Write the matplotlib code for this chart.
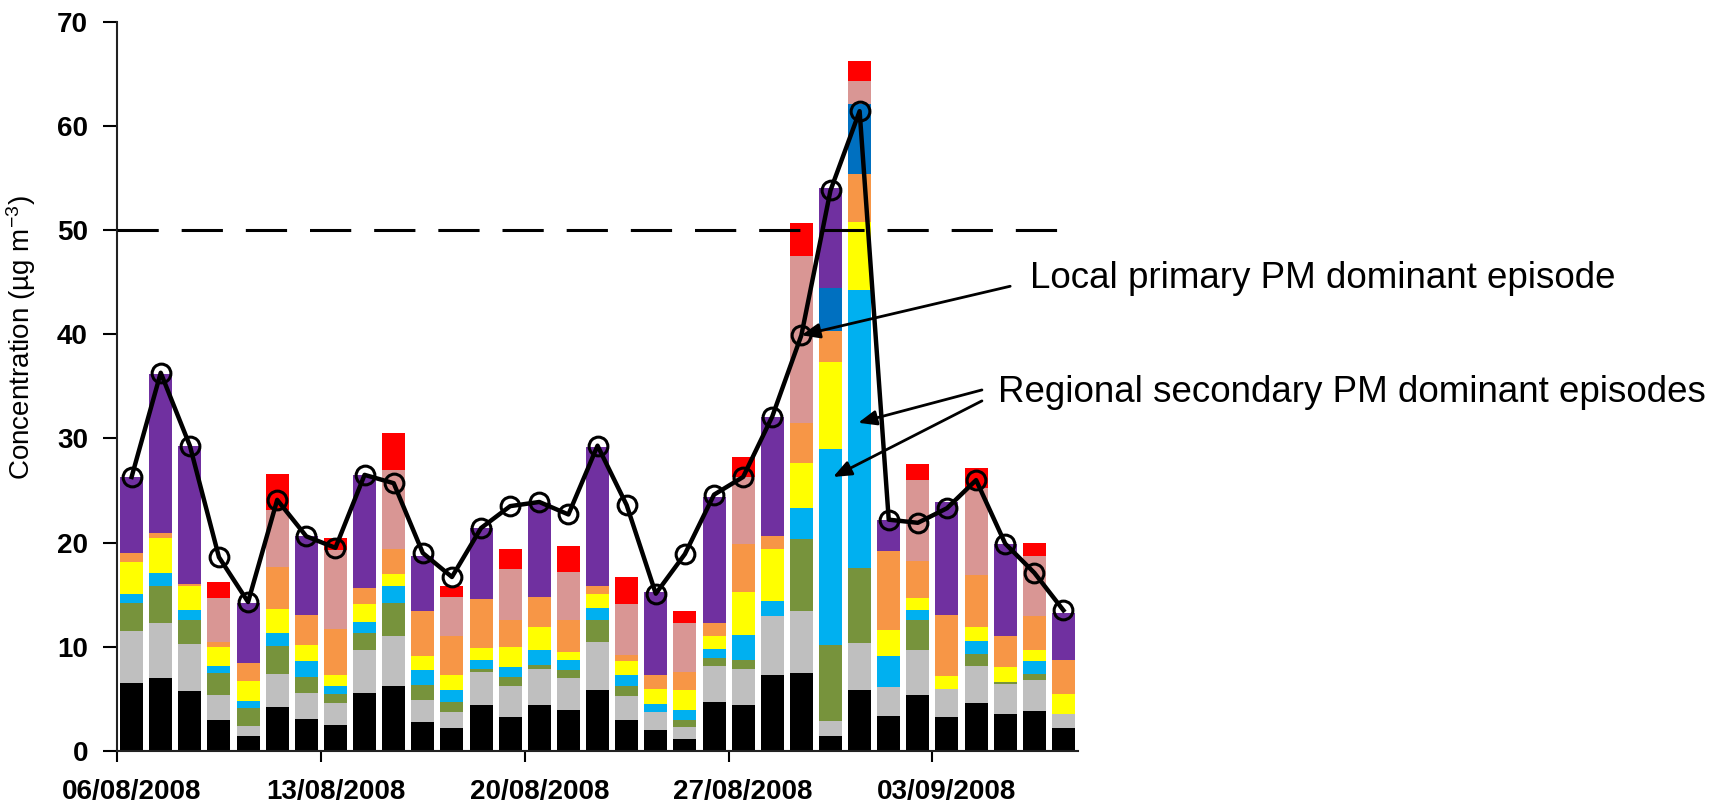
import numpy as np
import pandas as pd
import matplotlib
matplotlib.use("Agg")
from matplotlib import pyplot as plt

plt.rcParams['font.family'] = ['Liberation Sans', 'DejaVu Sans']
plt.rcParams['mathtext.default'] = 'regular'

dates = pd.date_range('2008-08-06', periods=33, freq='D')

# daily source contributions (ug/m3), stacked bottom to top
black = [6.5, 7.0, 5.8, 3.0, 1.4, 4.2, 3.1, 2.5, 5.6, 6.2, 2.8, 2.2, 4.4, 3.3, 4.4, 3.9, 5.9,
         3.0, 2.0, 1.2, 4.7, 4.4, 7.3, 7.5, 1.4, 5.9, 3.4, 5.4, 3.3, 4.6, 3.6, 3.8, 2.2]
grey = [5.0, 5.3, 4.5, 2.4, 1.0, 3.2, 2.5, 2.1, 4.1, 4.8, 2.1, 1.5, 3.2, 2.9, 3.5, 3.1, 4.6,
        2.3, 1.7, 1.1, 3.5, 3.5, 5.7, 5.9, 1.5, 4.5, 2.7, 4.3, 2.7, 3.6, 2.8, 3.0, 1.4]
olive = [2.7, 3.5, 2.3, 2.1, 1.7, 2.7, 1.5, 0.9, 1.6, 3.2, 1.4, 1.0, 0.3, 0.9, 0.4, 0.8, 2.1,
         0.9, 0.0, 0.7, 0.7, 0.8, 0.0, 6.9, 7.3, 7.2, 0.0, 2.9, 0.0, 1.1, 0.2, 0.6, 0.0]
lightblue = [0.9, 1.3, 0.9, 0.7, 0.7, 1.2, 1.5, 0.7, 1.1, 1.6, 1.5, 1.2, 0.8, 1.0, 1.4, 0.9, 1.1,
             1.1, 0.8, 0.9, 0.9, 2.4, 1.4, 3.0, 18.8, 26.6, 3.0, 0.9, 0.0, 1.3, 0.0, 1.2, 0.0]
yellow = [3.0, 3.3, 2.3, 1.8, 1.9, 2.3, 1.6, 1.1, 1.7, 1.2, 1.3, 1.4, 1.2, 1.9, 2.2, 0.8, 1.4,
          1.3, 1.5, 2.0, 1.2, 4.2, 5.0, 4.3, 8.3, 6.6, 2.5, 1.2, 1.2, 1.3, 1.5, 1.1, 1.9]
orange = [0.9, 0.5, 0.2, 0.5, 1.7, 4.1, 2.9, 4.4, 1.5, 2.4, 4.3, 3.7, 4.7, 2.6, 2.9, 3.1, 0.7,
          0.6, 1.3, 1.7, 1.3, 4.6, 1.2, 3.9, 3.0, 4.6, 7.6, 3.5, 5.9, 5.0, 2.9, 3.3, 3.2]
darkblue = [0, 0, 0, 0, 0, 0, 0, 0, 0, 0, 0, 0, 0, 0, 0, 0, 0,
            0, 0, 0, 0, 0, 0, 0, 4.1, 6.7, 0, 0, 0, 0, 0, 0, 0]
purple = [7.3, 15.3, 13.3, 0, 5.8, 0, 7.5, 0, 10.9, 0, 5.3, 0, 6.8, 0, 9.0, 0, 13.4,
          0, 8.0, 0, 12.1, 0, 11.5, 0, 9.6, 0, 3.0, 0, 10.8, 0, 8.9, 0, 4.5]
pink = [0, 0, 0, 4.2, 0, 5.4, 0, 7.6, 0, 7.6, 0, 3.8, 0, 4.9, 0, 4.6, 0,
        4.9, 0, 4.7, 0, 6.4, 0, 16.0, 0, 2.2, 0, 7.8, 0, 8.3, 0, 5.7, 0]
red = [0, 0, 0, 1.5, 0, 3.5, 0, 1.1, 0, 3.5, 0, 1.0, 0, 1.9, 0, 2.5, 0,
       2.6, 0, 1.1, 0, 1.9, 0, 3.2, 0, 1.9, 0, 1.5, 0, 2.0, 0, 1.3, 0]

# measured PM10 mass
measured = [26.3, 36.3, 29.3, 18.6, 14.3, 24.1, 20.6, 19.5, 26.5, 25.7, 19.0, 16.7, 21.4,
            23.5, 23.9, 22.7, 29.3, 23.6, 15.1, 18.9, 24.6, 26.3, 32.1, 39.9, 53.8, 61.4,
            22.2, 21.9, 23.3, 26.0, 19.9, 17.1, 13.5]

limit_value = 50

layers = [black, grey, olive, lightblue, yellow, orange, darkblue, purple, pink, red]
colors = ['#000000', '#BFBFBF', '#77933C', '#00B0F0', '#FFFF00', '#F79646',
          '#0070C0', '#7030A0', '#D99694', '#FF0000']

x = np.arange(len(dates))

fig = plt.figure(figsize=(17.34, 8.10), dpi=100)
ax = fig.add_axes([0.0675, 0.0728, 0.5542, 0.9006])

bottom = np.zeros(len(x))
for vals, c in zip(layers, colors):
    vals = np.array(vals, dtype=float)
    ax.bar(x, vals, width=0.79, bottom=bottom, color=c, edgecolor='none', zorder=2)
    bottom += vals

ax.axhline(limit_value, color='black', lw=2.2, linestyle=(0, (13.5, 7.5)), zorder=3)

ax.plot(x, measured, color='black', lw=3.2, marker='o', markersize=13.5,
        markerfacecolor='none', markeredgecolor='black', markeredgewidth=2.2, zorder=4)

ax.set_xlim(-0.5, len(x) - 0.5)
ax.set_ylim(0, 70)
ax.set_yticks(np.arange(0, 71, 10))

# date labels sit under the bar, tick marks on the category boundary
week = x[::7]
ax.set_xticks(week)
ax.set_xticklabels(dates[::7].strftime('%d/%m/%Y'))
ax.set_xticks(week - 0.5, minor=True)
ax.tick_params(axis='x', which='major', length=0, pad=20)
ax.tick_params(axis='x', which='minor', length=8, width=1.5, direction='out')
ax.tick_params(axis='y', length=10, width=1.5, direction='out', pad=11)
for lab in ax.get_xticklabels() + ax.get_yticklabels():
    lab.set_fontsize(20)
    lab.set_fontweight('bold')

for side in ['top', 'right']:
    ax.spines[side].set_visible(False)
for side in ['left', 'bottom']:
    ax.spines[side].set_linewidth(1.5)
    ax.spines[side].set_color('#222222')

ax.set_ylabel(r'Concentration (µg m$^{-3}$)', fontsize=20)
ax.yaxis.set_label_coords(-0.082, 0.567)

arrow = dict(arrowstyle='-|>,head_length=1.1,head_width=0.45', color='black', lw=2,
             shrinkA=0, shrinkB=0)
ax.annotate('', xy=(23, measured[23]), xytext=(30.17, 44.6),
            arrowprops=arrow, annotation_clip=False, zorder=5)
ax.text(30.86, 45.3, 'Local primary PM dominant episode', fontsize=26.5,
        va='center', ha='left', clip_on=False)

ax.annotate('', xy=(24.95, 31.5), xytext=(29.2, 34.65),
            arrowprops=arrow, annotation_clip=False, zorder=5)
ax.annotate('', xy=(24.09, 26.3), xytext=(29.2, 33.6),
            arrowprops=arrow, annotation_clip=False, zorder=5)
ax.text(29.76, 34.4, 'Regional secondary PM dominant episodes', fontsize=26.5,
        va='center', ha='left', clip_on=False)

plt.savefig('out.png', dpi=100)
